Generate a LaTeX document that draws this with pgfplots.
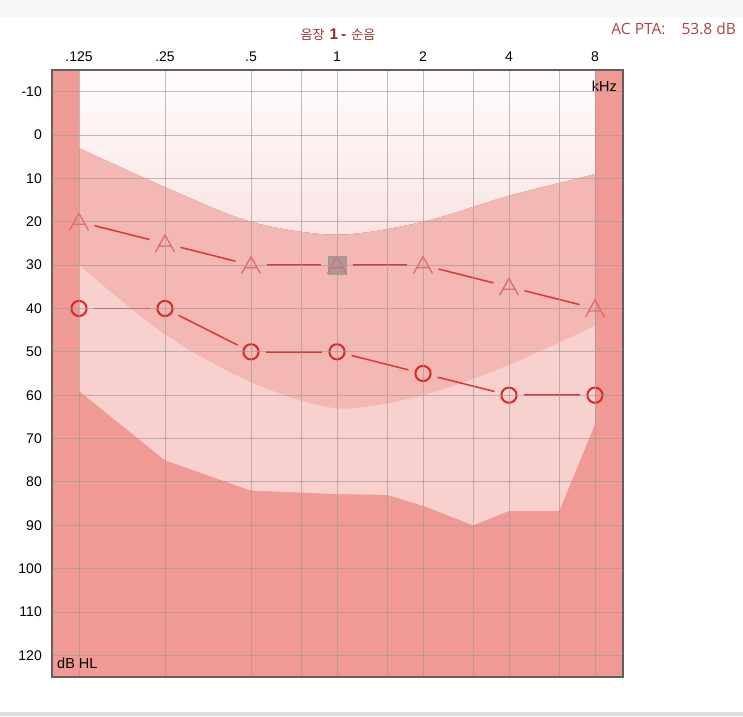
\documentclass[border=0pt]{standalone}
\usepackage{fontspec}
\setmainfont{Liberation Sans}
\newfontfamily\kr{Noto Sans CJK KR}
\newfontfamily\seg{Open Sans}
\usepackage{pgfplots}
\pgfplotsset{compat=1.18}
\usepgfplotslibrary{fillbetween}
\definecolor{darkband}{RGB}{240,154,149}
\definecolor{midband}{RGB}{243,183,180}
\definecolor{lightband}{RGB}{248,208,206}
\definecolor{toptop}{RGB}{255,252,252}
\definecolor{topbot}{RGB}{250,228,228}
\definecolor{gridc}{RGB}{165,150,150}
\definecolor{framec}{RGB}{105,92,92}
\definecolor{circc}{RGB}{215,40,42}
\definecolor{linec}{RGB}{220,55,55}
\definecolor{ac}{RGB}{228,105,105}
\definecolor{cursor}{RGB}{160,148,150}
\definecolor{titlec}{RGB}{150,45,50}
\definecolor{ptac}{RGB}{178,65,65}
\definecolor{barc}{RGB}{244,246,248}
\definecolor{barb}{RGB}{218,222,224}
\pgfdeclareplotmark{audA}{%
  \pgfpathmoveto{\pgfqpoint{-9.5pt}{-8.5pt}}%
  \pgfpathlineto{\pgfqpoint{0pt}{8.5pt}}%
  \pgfpathlineto{\pgfqpoint{9.5pt}{-8.5pt}}%
  \pgfpathmoveto{\pgfqpoint{-6.2pt}{-2.5pt}}%
  \pgfpathlineto{\pgfqpoint{6.2pt}{-2.5pt}}%
  \pgfusepathqstroke}
\begin{document}
\begin{tikzpicture}
\path (0,0) rectangle (743pt,716pt);
\fill[barc] (0,699pt) rectangle (743pt,716pt);
\fill[barb] (0,0) rectangle (743pt,4pt);
\begin{axis}[
  axis on top,
  scale only axis, width=571pt, height=607pt,
  at={(52pt,39pt)}, anchor=south west,
  xmin=-0.314, xmax=6.326, ymin=-15, ymax=125, y dir=reverse,
  xtick={0,1,2,3,4,5,6}, xticklabels={.125,.25,.5,1,2,4,8},
  xticklabel pos=right,
  extra x ticks={2.585,3.585,4.585,5.585}, extra x tick labels={,,,},
  extra x tick style={grid=major},
  ytick={-10,0,...,120},
  grid=major,
  major grid style={draw=gridc, line width=0.9pt, opacity=0.65},
  major tick length=0pt,
  axis line style={draw=framec, line width=1.5pt},
  tick label style={font=\fontsize{14}{16}\selectfont},
  xticklabel style={inner sep=0pt, yshift=8.5pt},
  yticklabel style={inner sep=0pt, xshift=-10pt},
  /pgf/number format/assume math mode=true,
  axis background/.style={fill=darkband},
]
\addplot[draw=none, name path=T, forget plot] coordinates {(0,-15) (6,-15)};
\addplot[draw=none, name path=U, smooth, forget plot] coordinates {(0,3) (1,12) (2,20) (3,23) (4,20) (5,14) (6,9)};
\addplot[draw=none, name path=M, smooth, forget plot] coordinates {(0,30) (1,46) (2,57) (3,63) (4,60) (5,53) (6,44)};
\addplot[draw=none, name path=B, forget plot] coordinates {(0,59) (1,75) (2,82) (3,82.8) (3.585,83) (4,85.5) (4.585,90) (5,86.7) (5.585,86.7) (6,66.7)};
\addplot[draw=none, top color=toptop, bottom color=topbot] fill between[of=T and U];
\addplot[fill=midband, draw=none] fill between[of=U and M];
\addplot[fill=lightband, draw=none] fill between[of=M and B];
% connecting lines, circles
\addplot[linec, line width=1.5pt, shorten >=15pt, shorten <=15pt] coordinates {(0,40) (1,40)};
\addplot[linec, line width=1.5pt, shorten >=15pt, shorten <=15pt] coordinates {(1,40) (2,50)};
\addplot[linec, line width=1.5pt, shorten >=15pt, shorten <=15pt] coordinates {(2,50) (3,50)};
\addplot[linec, line width=1.5pt, shorten >=15pt, shorten <=15pt] coordinates {(3,50) (4,55)};
\addplot[linec, line width=1.5pt, shorten >=15pt, shorten <=15pt] coordinates {(4,55) (5,60)};
\addplot[linec, line width=1.5pt, shorten >=15pt, shorten <=15pt] coordinates {(5,60) (6,60)};
% connecting lines, A
\addplot[linec, line width=1.5pt, shorten >=16pt, shorten <=16pt] coordinates {(0,20) (1,25)};
\addplot[linec, line width=1.5pt, shorten >=16pt, shorten <=16pt] coordinates {(1,25) (2,30)};
\addplot[linec, line width=1.5pt, shorten >=16pt, shorten <=16pt] coordinates {(2,30) (3,30)};
\addplot[linec, line width=1.5pt, shorten >=16pt, shorten <=16pt] coordinates {(3,30) (4,30)};
\addplot[linec, line width=1.5pt, shorten >=16pt, shorten <=16pt] coordinates {(4,30) (5,35)};
\addplot[linec, line width=1.5pt, shorten >=16pt, shorten <=16pt] coordinates {(5,35) (6,40)};
% cursor square at 1 kHz
\addplot[only marks, mark=square*, mark size=9pt, mark options={fill=cursor, draw=cursor, opacity=0.85}] coordinates {(3,30)};
% markers
\addplot[only marks, mark=o, mark size=7.6pt, mark options={draw=circc, line width=2pt}] coordinates {(0,40) (1,40) (2,50) (3,50) (4,55) (5,60) (6,60)};
\addplot[only marks, mark=audA, mark options={draw=ac, line width=1.3pt}] coordinates {(0,20) (1,25) (2,30) (3,30) (4,30) (5,35) (6,40)};
% bottom labels
\node[font=\fontsize{14}{16}\selectfont, inner sep=0pt] at (axis cs:2.585,125) [yshift=-18pt] {.75};
\node[font=\fontsize{14}{16}\selectfont, inner sep=0pt] at (axis cs:3.585,125) [yshift=-18pt] {1.5};
\node[font=\fontsize{14}{16}\selectfont, inner sep=0pt] at (axis cs:4.585,125) [yshift=-18pt] {3};
\node[font=\fontsize{14}{16}\selectfont, inner sep=0pt] at (axis cs:5.585,125) [yshift=-18pt] {6};
\end{axis}
\node[anchor=east, inner sep=0pt, font=\fontsize{14.5}{16}\selectfont] at (617pt,630pt) {kHz};
\node[anchor=west, inner sep=0pt, font=\fontsize{14.5}{16}\selectfont] at (57pt,53pt) {dB HL};
\node[text=titlec, inner sep=0pt] at (338pt,681pt) {{\kr\fontsize{13}{15}\selectfont 음장}\hspace{5pt}{\bfseries\fontsize{15.5}{16}\selectfont 1\hspace{3pt}-}\hspace{5pt}{\kr\fontsize{13}{15}\selectfont 순음}};
\node[anchor=east, text=ptac, inner sep=0pt] at (736pt,687pt) {\seg\fontsize{15.5}{18}\selectfont AC PTA:\hspace{16pt}53.8 dB};
\end{tikzpicture}
\end{document}
